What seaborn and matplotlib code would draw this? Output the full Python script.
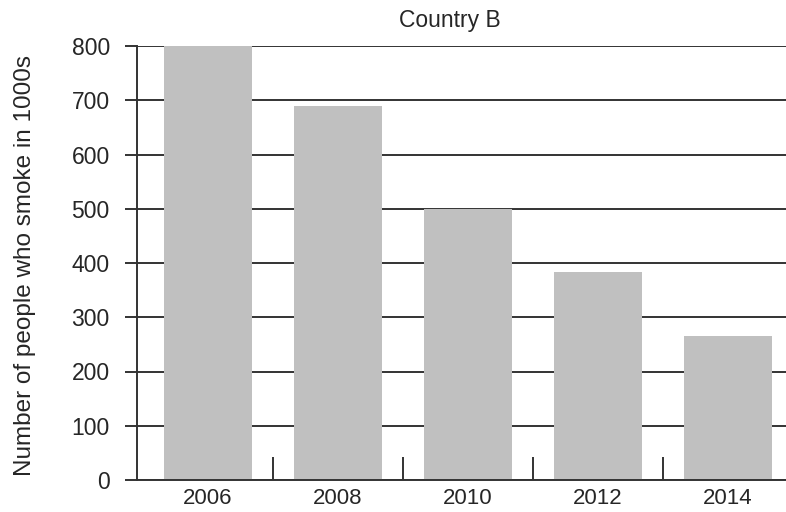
import matplotlib

matplotlib.use("Agg")
import matplotlib.pyplot as plt
import pandas as pd
import seaborn as sns
from matplotlib.ticker import FixedLocator

# values
years = ["2006", "2008", "2010", "2012", "2014"]
smokers_k = [800, 690, 500, 383, 266]
y_ticks = [0, 100, 200, 300, 400, 500, 600, 700, 800]

BAR_COLOR = "#c0c0c0"
LINE_COLOR = "#333333"
TEXT_COLOR = "#262626"


def main():
    sns.set_theme(style="white")
    plt.rcParams["font.family"] = ["Liberation Sans", "DejaVu Sans"]

    df = pd.DataFrame({"year": years, "smokers": smokers_k})

    fig = plt.figure(figsize=(7.86, 5.12), dpi=100, facecolor="white")
    ax = fig.add_axes([137 / 786, 32 / 512, 649 / 786, 434 / 512])

    sns.barplot(data=df, x="year", y="smokers", color=BAR_COLOR, saturation=1,
                width=0.68, linewidth=0, ax=ax)

    ax.set_xlim(-0.546, 4.446)
    ax.set_ylim(0, 800)
    ax.set_yticks(y_ticks)
    ax.set_axisbelow(True)
    ax.yaxis.grid(True, color=LINE_COLOR, linewidth=1.4)
    ax.xaxis.grid(False)

    for side in ["top", "right"]:
        ax.spines[side].set_visible(False)
    for side in ["left", "bottom"]:
        ax.spines[side].set_color(LINE_COLOR)
        ax.spines[side].set_linewidth(1.4)

    ax.tick_params(axis="y", direction="out", length=8.6, width=1.4, color=LINE_COLOR,
                   labelsize=16.5, labelcolor=TEXT_COLOR, pad=11, left=True)
    ax.tick_params(axis="x", which="major", length=0, labelsize=16,
                   labelcolor=TEXT_COLOR, pad=5.5)
    ax.xaxis.set_minor_locator(FixedLocator([0.5, 1.5, 2.5, 3.5]))
    ax.tick_params(axis="x", which="minor", direction="in", length=16.5, width=1.4,
                   color=LINE_COLOR, bottom=True)

    ax.set_xlabel("")
    ax.set_ylabel("")
    fig.text(25 / 786, 1 - 266 / 512, "Number of people who smoke in 1000s",
             rotation=90, ha="center", va="center", fontsize=17.5, color=TEXT_COLOR)
    fig.text(450 / 786, 1 - 20 / 512, "Country B", ha="center", va="center",
             fontsize=16.5, color=TEXT_COLOR)

    fig.savefig("out.png", dpi=100, facecolor="white")
    plt.close(fig)


if __name__ == "__main__":
    main()
